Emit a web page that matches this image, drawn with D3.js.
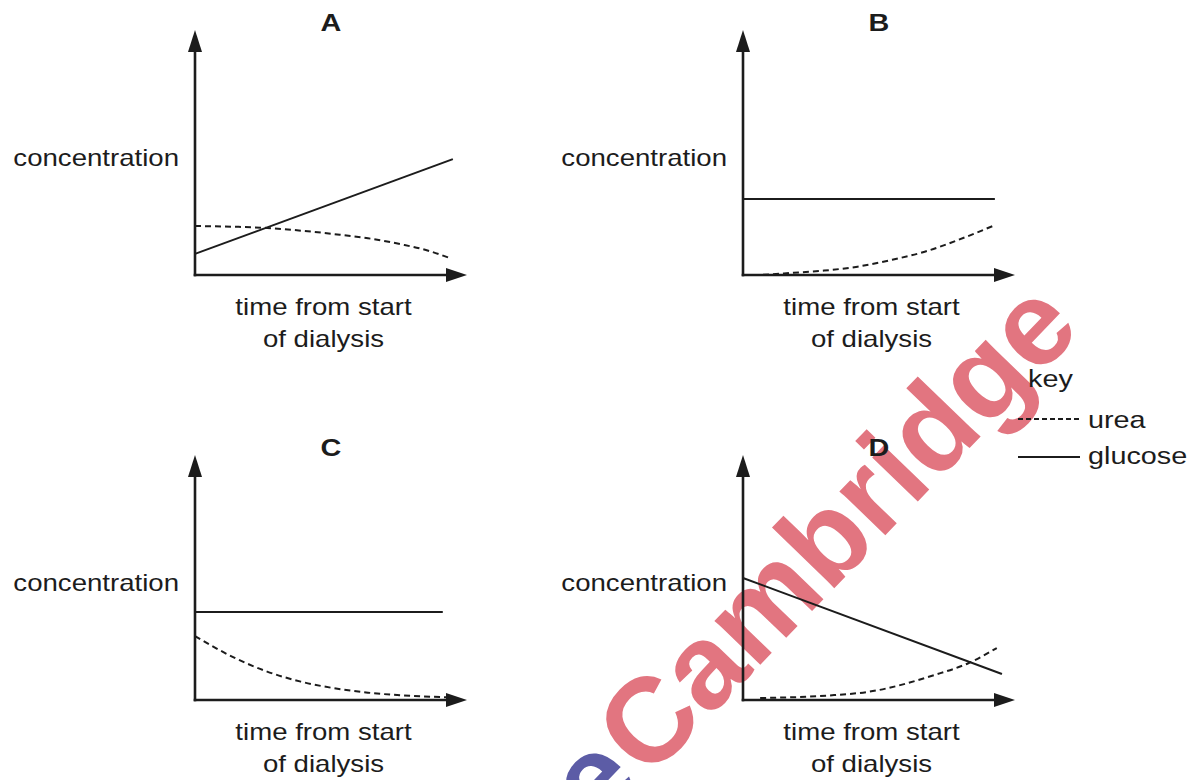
<!DOCTYPE html>
<html>
<head>
<meta charset="utf-8">
<script src="https://cdn.jsdelivr.net/npm/d3@7"></script>
<style>
  html, body { margin: 0; padding: 0; background: #ffffff; }
  svg { display: block; }
  text { font-family: "Liberation Sans", Arial, Helvetica, sans-serif; fill: #1c1c1c; }
</style>
</head>
<body>
<svg id="chart" width="1190" height="780"></svg>
<script>
// ---- data (time and concentration in arbitrary units, 0-10 on each axis) ----
const panelNames = ["A", "B", "C", "D"];

const glucoseA_t = [0, 9.48];
const glucoseA_c = [0.86, 4.73];
const ureaA_t = [0, 1.42, 2.65, 3.89, 5.12, 6.36, 7.59, 8.58, 9.32];
const ureaA_c = [2.0, 1.97, 1.92, 1.81, 1.67, 1.50, 1.25, 0.99, 0.71];

const glucoseB_t = [0, 9.26];
const glucoseB_c = [3.10, 3.10];
const ureaB_t = [0, 0.38, 1.86, 2.98, 4.21, 5.44, 6.68, 7.91, 9.27];
const ureaB_c = [0, 0, 0.09, 0.18, 0.34, 0.61, 0.95, 1.43, 2.04];

const glucoseC_t = [0, 9.11];
const glucoseC_c = [3.59, 3.59];
const ureaC_t = [0, 1.42, 2.65, 3.89, 5.12, 6.36, 7.59, 9.32];
const ureaC_c = [2.61, 1.74, 1.16, 0.75, 0.48, 0.30, 0.19, 0.11];

const glucoseD_t = [0, 9.52];
const glucoseD_c = [4.98, 1.06];
const ureaD_t = [0.63, 3.35, 4.59, 7.04, 8.30, 9.33];
const ureaD_c = [0.08, 0.20, 0.33, 1.02, 1.51, 2.12];

const axisMax = 10;
const yAxisLabel = "concentration";
const xAxisLabel = ["time from start", "of dialysis"];
const keyTitle = "key";
const seriesNames = ["urea", "glucose"];
const watermarkText = "Cambridge";
const watermarkPrefix = "e";

// ---- layout ----
const origins = { A: [195, 275], B: [743, 275], C: [195, 700], D: [743, 700] };
const xLen = 272, yLen = 245;
const SX = 1.2; // horizontal stretch of the lettering

const svg = d3.select("#chart");

// watermark (under everything)
const wm = svg.append("g").attr("class", "watermark");
wm.append("text")
  .attr("transform", "translate(648,781) rotate(-46)")
  .attr("font-size", 120).attr("font-weight", "bold")
  .style("fill", "#e27580")
  .text(watermarkText);
wm.append("text")
  .attr("transform", "translate(644,784) rotate(-46)")
  .attr("text-anchor", "end")
  .attr("font-size", 120).attr("font-weight", "bold")
  .style("fill", "#5c5ca6")
  .text(watermarkPrefix);

function label(g, x, y, str, anchor, size, weight) {
  return g.append("text")
    .attr("transform", `translate(${x},${y}) scale(${SX},1)`)
    .attr("text-anchor", anchor)
    .attr("font-size", size)
    .attr("font-weight", weight || "normal")
    .text(str);
}

const data = {
  A: { glucose: d3.zip(glucoseA_t, glucoseA_c), urea: d3.zip(ureaA_t, ureaA_c) },
  B: { glucose: d3.zip(glucoseB_t, glucoseB_c), urea: d3.zip(ureaB_t, ureaB_c) },
  C: { glucose: d3.zip(glucoseC_t, glucoseC_c), urea: d3.zip(ureaC_t, ureaC_c) },
  D: { glucose: d3.zip(glucoseD_t, glucoseD_c), urea: d3.zip(ureaD_t, ureaD_c) }
};

const ink = "#1c1c1c";

panelNames.forEach(name => {
  const [ox, oy] = origins[name];
  const x = d3.scaleLinear().domain([0, axisMax]).range([ox, ox + xLen]);
  const y = d3.scaleLinear().domain([0, axisMax]).range([oy, oy - yLen]);
  const g = svg.append("g").attr("class", "panel-" + name);

  // axes (domain lines only)
  const gx = g.append("g").attr("transform", `translate(0,${oy})`)
    .call(d3.axisBottom(x).tickValues([]).tickSizeOuter(0).tickSizeInner(0));
  const gy = g.append("g").attr("transform", `translate(${ox},0)`)
    .call(d3.axisLeft(y).tickValues([]).tickSizeOuter(0).tickSizeInner(0));
  [gx, gy].forEach(a => a.select(".domain").attr("stroke", ink).attr("stroke-width", 2.6));
  // make axes meet at origin and stop under arrowheads
  gx.select(".domain").attr("d", `M${ox - 1.3},0H${x(axisMax) - 10}`);
  gy.select(".domain").attr("d", `M0,${oy + 1.3}V${y(axisMax) + 10}`);

  // arrowheads
  const tipX = x(axisMax), tipY = y(axisMax);
  g.append("path").attr("d", `M${tipX},${oy}L${tipX - 21},${oy - 7}L${tipX - 21},${oy + 7}Z`).attr("fill", ink);
  g.append("path").attr("d", `M${ox},${tipY}L${ox - 7},${tipY + 22}L${ox + 7},${tipY + 22}Z`).attr("fill", ink);

  const line = d3.line().x(d => x(d[0])).y(d => y(d[1])).curve(d3.curveMonotoneX);

  g.append("path").datum(data[name].glucose).attr("d", line)
    .attr("fill", "none").attr("stroke", ink).attr("stroke-width", 2);
  g.append("path").datum(data[name].urea).attr("d", line)
    .attr("fill", "none").attr("stroke", ink).attr("stroke-width", 2)
    .attr("stroke-dasharray", "6,4");

  // labels
  label(g, ox + 136, tipY + 1, name, "middle", 24, "bold");
  label(g, ox - 16, oy - 109, yAxisLabel, "end", 23);
  label(g, ox + 128.5, oy + 40, xAxisLabel[0], "middle", 23);
  label(g, ox + 128.5, oy + 72, xAxisLabel[1], "middle", 23);
});

// key
const key = svg.append("g").attr("class", "key");
label(key, 1028, 387, keyTitle, "start", 24);
const keyRows = [
  { name: seriesNames[0], y: 419, dash: "5,3", ty: 428 },
  { name: seriesNames[1], y: 457, dash: null, ty: 464 }
];
const keyX = d3.scaleLinear().domain([0, 1]).range([1018, 1080]);
keyRows.forEach(r => {
  key.append("path")
    .datum([[0, r.y], [1, r.y]])
    .attr("d", d3.line().x(d => keyX(d[0])).y(d => d[1]))
    .attr("stroke", ink).attr("stroke-width", 2)
    .attr("stroke-dasharray", r.dash);
  label(key, 1088, r.ty, r.name, "start", 24);
});
</script>
</body>
</html>
